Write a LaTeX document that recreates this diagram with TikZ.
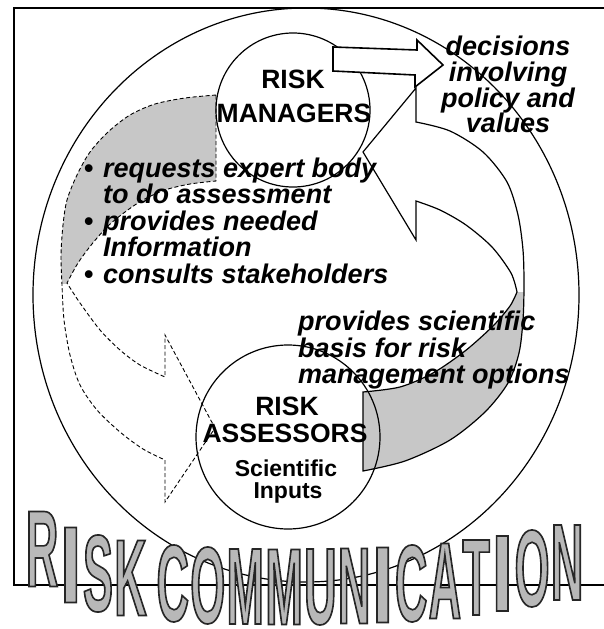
\documentclass[tikz,border=0pt]{standalone}
\usepackage{fontspec}
\setmainfont{Liberation Sans}
\newfontfamily\wafont[FakeStretch=0.41,FakeBold=1.5]{Liberation Sans}
\newfontfamily\wafontI[FakeStretch=0.72,FakeBold=1.5]{Liberation Sans}
\newcommand{\waoutline}{\special{pdf:literal direct 0.15 G}}
\begin{document}
\begin{tikzpicture}[x=1pt,y=-1pt,
  outl/.style={line width=1.2pt},
  dashline/.style={line width=0.9pt, dash pattern=on 4pt off 2.5pt},
  lbl/.style={font=\bfseries\fontsize{26.5}{28}\selectfont, inner sep=0pt, anchor=base},
  sublbl/.style={font=\bfseries\fontsize{23}{24}\selectfont, inner sep=0pt, anchor=base},
  itl/.style={font=\bfseries\itshape\fontsize{27}{28}\selectfont, inner sep=0pt},
  bul/.style={font=\bfseries\fontsize{27}{28}\selectfont, inner sep=0pt, anchor=base west},
  wa/.style={font=\wafont\bfseries\fontsize{109}{110}\selectfont, text=black!28, inner sep=0pt}
]
\useasboundingbox (0,0) rectangle (604,629);
\fill[white] (0,0) rectangle (604,629);

% frame
\draw[line width=2pt] (604,8) -- (14,8) -- (14,585) -- (604,585);

% big ellipse
\draw[outl] (306,295) ellipse [x radius=273, y radius=287];

% left band (gray tail + dashed arrow)
\def\leftshape{(216,95) -- plot[smooth] coordinates {(216,95) (185,98) (155,104) (130,115) (108,132) (90,152) (77,175) (67,200) (63,225) (61,255) (62,285) (64,320) (70,355) (80,385) (97,410) (120,432) (143,449) (165,460)} -- (165,502) -- (215,428) -- (165,335) -- (165,377) -- plot[smooth] coordinates {(165,377) (140,365) (120,350) (100,330) (80,303) (67,283)} -- plot[smooth] coordinates {(67,283) (78,263) (92,244) (108,226) (125,212) (143,200) (165,190) (190,184) (216,181)} -- cycle}
\fill[white] \leftshape;
\begin{scope}
  \clip (0,0) rectangle (300,283);
  \fill[black!22] \leftshape;
\end{scope}
\draw[dashline] \leftshape;

% right curved arrow (white head + gray tail)
\def\rightshape{(363,152) -- (416,88) -- (416,122) -- plot[smooth] coordinates {(416,122) (450,131) (483,152) (507,182) (518,215) (523,250) (524,285) (523,320) (519,353) (508,383) (485,412) (450,440) (405,461) (363,471)} -- (363,392) -- plot[smooth] coordinates {(363,392) (400,387) (433,373) (465,351) (493,326) (510,306) (517,292)} -- plot[smooth] coordinates {(517,292) (511,273) (492,247) (466,225) (440,210) (416,201)} -- (416,240) -- cycle}
\fill[white] \rightshape;
\begin{scope}
  \clip (300,292) rectangle (604,629);
  \fill[black!22] \rightshape;
\end{scope}
\draw[outl] \rightshape;

% circles
\node[draw, circle, outl, minimum size=154pt, inner sep=0pt] (mgr) at (293,110) {};
\node[draw, circle, outl, minimum size=184pt, inner sep=0pt] (ass) at (288,437) {};

% block arrow from managers
\draw[line width=1.6pt, fill=white] (333,47) -- (417,50) -- (417,40) -- (443,65) -- (415,87) -- (415,75) -- (333,71) -- cycle;

% labels in circles
\node[lbl] (mgr1) at (293,88) {RISK};
\node[lbl] (mgr2) at (294,122) {MANAGERS};
\node[lbl] (ass1) at (287,415) {RISK};
\node[lbl] (ass2) at (285,442) {ASSESSORS};
\node[sublbl] (ass3) at (286,476) {Scientific};
\node[sublbl] (ass4) at (288,498) {Inputs};

% decisions text
\node[itl, anchor=base] (dec1) at (508,55) {decisions};
\node[itl, anchor=base] (dec2) at (508,81) {involving};
\node[itl, anchor=base] (dec3) at (508,107) {policy and};
\node[itl, anchor=base] (dec4) at (508,132) {values};

% bullet list
\node[bul] (b1) at (84,177) {•};
\node[bul] (b2) at (84,230) {•};
\node[bul] (b3) at (84,283) {•};
\node[itl, anchor=base west] (r1) at (103,177) {requests expert body};
\node[itl, anchor=base west] (r2) at (103,203) {to do assessment};
\node[itl, anchor=base west] (r3) at (103,230) {provides needed};
\node[itl, anchor=base west] (r4) at (103,256) {Information};
\node[itl, anchor=base west] (r5) at (103,283) {consults stakeholders};

% provides scientific basis
\node[itl, anchor=base west] (p1) at (298,330) {provides scientific};
\node[itl, anchor=base west] (p2) at (298,357) {basis for risk};
\node[itl, anchor=base west] (p3) at (298,383) {management options};

% word art
\foreach \ch/\cx/\cy/\ff [count=\i] in {
  R/42.1/549/\wafont, I/70.7/565/\wafontI, S/98/573.5/\wafont, K/130.5/578/\wafont,
  C/172.8/583.5/\wafont, O/207.8/585.5/\wafont, M/245.3/586.5/\wafont, M/284.1/587/\wafont,
  U/320.3/587/\wafont, N/354.1/586/\wafont, I/382.6/585/\wafontI, C/411.2/583.5/\wafont,
  A/444.9/581/\wafont, T/476.2/577.5/\wafont, I/502.3/573.5/\wafontI, O/532.1/568.5/\wafont,
  N/567.1/562.5/\wafont}
  {\node[wa] (wa\i) at (\cx,\cy) {\ff\waoutline\ch};}
\end{tikzpicture}
\end{document}
